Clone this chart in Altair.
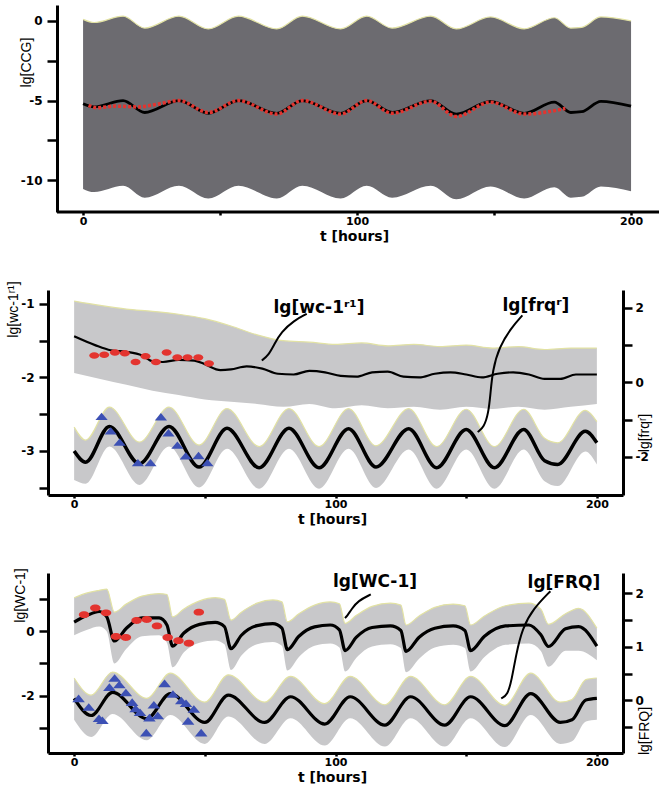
import altair as alt
import pandas as pd

RED = '#e3342f'
BLUE = '#3c50b4'
DARK = '#6c6b70'
LIGHT = '#c8c8ca'
EDGE = '#e2e2a4'

# ---------------- Panel 1 : lg[CCG] ----------------
ccg_t  = [0, 4, 14.6, 22.5, 35, 45.7, 56.7, 70.7, 80, 94, 103.5, 112.8, 126.9, 136.2, 148.7, 161, 172, 178, 182, 189, 200]
ccg_v  = [-5.2, -5.4, -5.0, -5.75, -5.0, -5.8, -5.0, -5.8, -5.0, -5.8, -5.0, -5.75, -5.0, -5.85, -5.05, -5.8, -5.1, -5.75, -5.7, -5.05, -5.35]
ccg_hi = [0.1, -0.1, 0.3, -0.45, 0.3, -0.5, 0.3, -0.5, 0.3, -0.5, 0.3, -0.45, 0.3, -0.5, 0.25, -0.5, 0.2, -0.45, -0.4, 0.25, 0.0]
ccg_lo = [-10.55, -10.75, -10.35, -11.1, -10.35, -11.15, -10.35, -11.15, -10.35, -11.15, -10.35, -11.1, -10.35, -11.2, -10.4, -11.15, -10.45, -11.1, -11.05, -10.4, -10.7]
ccg_red_t = [2, 5, 12, 20, 28, 35, 45.7, 56.7, 70.7, 80, 94, 103.5, 112.8, 126.9, 136.2, 148.7, 161, 176]
ccg_red_v = [-5.3, -5.45, -5.35, -5.4, -5.2, -5.0, -5.75, -5.0, -5.85, -5.0, -5.85, -5.0, -5.8, -5.05, -6.0, -5.1, -5.85, -5.5]
p1_frame = {'t': [-9.5], 't2': [210.2], 'v': [-12]}

# ---------------- Panel 2 : lg[wc-1 r1] / lg[frq r] ----------------
wc_t = [0, 8, 14, 20, 26, 30, 34, 40, 46, 50, 56, 60, 66, 72, 78, 84, 90, 96, 102, 108, 114, 120, 126, 132, 138, 144, 150, 156, 162, 168, 174, 180, 186, 192, 200]
wc_v = [-1.44, -1.56, -1.63, -1.65, -1.70, -1.78, -1.79, -1.76, -1.77, -1.82, -1.90, -1.89, -1.85, -1.88, -1.95, -1.96, -1.91, -1.93, -1.98, -1.99, -1.93, -1.92, -1.99, -2.0, -1.95, -1.93, -1.96, -2.0, -1.95, -1.93, -1.96, -2.02, -2.02, -1.96, -1.96]
wcb_t = [0, 10, 20, 30, 40, 50, 60, 70, 80, 90, 100, 110, 120, 130, 140, 150, 160, 170, 180, 190, 200]
wcb_hi = [-0.96, -1.02, -1.07, -1.1, -1.14, -1.2, -1.3, -1.42, -1.5, -1.52, -1.55, -1.53, -1.57, -1.55, -1.58, -1.56, -1.6, -1.58, -1.62, -1.6, -1.6]
wcb_lo = [-1.94, -2.02, -2.1, -2.18, -2.24, -2.3, -2.33, -2.36, -2.4, -2.36, -2.42, -2.38, -2.42, -2.4, -2.44, -2.4, -2.43, -2.4, -2.44, -2.4, -2.36]
red2_t = [7.7, 11.5, 15.6, 19.4, 23.5, 27.3, 31.3, 35.4, 39.5, 43.4, 47.5, 51.6]
red2_v = [-1.70, -1.69, -1.66, -1.67, -1.79, -1.71, -1.79, -1.66, -1.73, -1.73, -1.73, -1.81]
frq_t = [0, 4.4, 13.5, 25, 36.3, 47.8, 58.5, 70.8, 82.2, 93.7, 105, 115.5, 128, 138.7, 150, 160.8, 172, 180, 185, 195.6, 200]
frq_v = [-1.84, -2.14, -1.18, -2.18, -1.18, -2.27, -1.23, -2.29, -1.23, -2.29, -1.24, -2.27, -1.24, -2.29, -1.26, -2.29, -1.26, -2.1, -2.2, -1.31, -1.62]
frq_hi = [-1.2, -1.55, -0.66, -1.6, -0.66, -1.68, -0.7, -1.72, -0.7, -1.72, -0.7, -1.7, -0.7, -1.72, -0.72, -1.72, -0.72, -1.5, -1.62, -0.75, -1.05]
frq_lo = [-2.62, -2.72, -1.72, -2.75, -1.72, -2.82, -1.78, -2.85, -1.78, -2.85, -1.78, -2.83, -1.8, -2.85, -1.8, -2.85, -1.8, -2.65, -2.78, -1.85, -2.2]
tri2_t = [10.5, 14, 17.4, 24.4, 29.2, 33.2, 36.1, 39.5, 42.7, 47.6, 51]
tri2_v = [-0.91, -1.3, -1.6, -2.15, -2.15, -0.92, -1.35, -1.68, -1.97, -1.96, -2.15]
ptr2_id = [1, 1, 1, 1, 1, 1, 2, 2, 2, 2, 2, 2, 2, 2]
ptr2_t = [89.0, 84.1, 79.2, 76.7, 74.3, 71.8, 171.5, 167.4, 162.6, 160.1, 159.3, 158.5, 156.8, 154.4]
ptr2_v = [1.84, 1.66, 1.35, 1.04, 0.72, 0.59, 1.8, 1.48, 0.95, 0.32, -0.3, -0.83, -1.2, -1.33]
lab2_text = ['lg[wc-1ʳ¹]', 'lg[frqʳ]']
lab2_t = [93.7, 176.7]
lab2_v = [1.99, 2.04]

# ---------------- Panel 3 : lg[WC-1] / lg[FRQ] ----------------
WC_t = [0, 5, 9.6, 12.5, 15.4, 19.9, 26, 32.5, 35.5, 37.7, 42, 48, 54, 57.5, 60, 64, 70, 76, 79.5, 81.6, 86, 92, 98, 101.5, 103.7, 108, 114, 121, 125, 127, 132, 138, 145, 149.5, 151.7, 157, 165, 174, 178.5, 181.5, 188, 193, 200]
WC_v = [0.29, 0.5, 0.62, 0.45, -0.3, 0.09, 0.42, 0.42, 0.2, -0.46, -0.05, 0.22, 0.28, 0.15, -0.54, -0.12, 0.18, 0.24, 0.1, -0.57, -0.15, 0.14, 0.2, 0.05, -0.6, -0.18, 0.12, 0.17, 0.03, -0.62, -0.18, 0.1, 0.17, 0.03, -0.6, -0.15, 0.17, 0.2, -0.1, -0.47, 0.08, 0.15, -0.46]
WC_hi = [1.05, 1.2, 1.28, 1.32, 0.6, 0.85, 1.1, 1.18, 1.15, 0.45, 0.7, 0.95, 1.05, 1.0, 0.35, 0.6, 0.88, 0.98, 0.92, 0.3, 0.55, 0.82, 0.92, 0.86, 0.25, 0.5, 0.78, 0.88, 0.82, 0.2, 0.48, 0.75, 0.85, 0.8, 0.2, 0.48, 0.8, 0.88, 0.7, 0.22, 0.55, 0.72, 0.1]
WC_lo = [-0.12, 0.05, 0.15, 0.0, -1.0, -0.55, -0.15, -0.12, -0.35, -1.12, -0.65, -0.35, -0.28, -0.4, -1.2, -0.75, -0.4, -0.33, -0.45, -1.22, -0.8, -0.45, -0.38, -0.5, -1.25, -0.82, -0.47, -0.4, -0.52, -1.27, -0.85, -0.5, -0.42, -0.52, -1.25, -0.8, -0.42, -0.38, -0.6, -1.1, -0.6, -0.6, -0.9]
red3_t = [3.8, 8.1, 12.2, 16.0, 19.8, 23.9, 27.8, 31.7, 35.8, 39.9, 43.9, 47.7]
red3_v = [0.52, 0.73, 0.58, -0.16, -0.19, 0.34, 0.37, 0.17, -0.19, -0.29, -0.37, 0.6]
FRQ_t = [0, 6.5, 14.7, 27.8, 36.8, 50, 59, 72.9, 82.8, 95.9, 105.6, 118.9, 128.7, 141.8, 151.7, 164.8, 174.7, 186, 190.5, 195.8, 200]
FRQ_v = [0.04, -0.28, 0.15, -0.34, 0.13, -0.41, 0.1, -0.41, 0.07, -0.44, 0.07, -0.46, 0.07, -0.46, 0.07, -0.47, 0.13, -0.41, -0.36, 0.01, 0.04]
FRQ_hi = [0.42, 0.1, 0.53, 0.04, 0.51, -0.03, 0.48, -0.03, 0.45, -0.06, 0.45, -0.08, 0.45, -0.08, 0.45, -0.09, 0.51, -0.03, 0.02, 0.39, 0.42]
FRQ_lo = [-0.36, -0.68, -0.25, -0.74, -0.27, -0.81, -0.3, -0.81, -0.33, -0.84, -0.33, -0.86, -0.33, -0.86, -0.33, -0.87, -0.27, -0.81, -0.76, -0.39, -0.36]
tri3_t = [1.7, 5.6, 9.5, 10.8, 13.5, 15.5, 17.3, 19.8, 22.2, 23.5, 25.2, 27.6, 28.8, 30.5, 32, 34.6, 37.8, 41, 42.8, 43.6, 45.8, 48.6]
tri3_v = [0.04, -0.12, -0.33, -0.37, 0.25, 0.42, 0.3, 0.15, -0.03, -0.15, -0.22, -0.6, -0.32, -0.08, -0.28, 0.32, 0.12, 0.0, -0.05, -0.38, -0.16, -0.6]
ptr3_id = [1, 1, 1, 1, 1, 2, 2, 2, 2, 2, 2, 2]
ptr3_t = [113.5, 108.6, 106.2, 104.5, 103.6, 182.2, 175.6, 171.5, 169.1, 167.4, 165.8, 163.4]
ptr3_v = [1.98, 1.86, 1.71, 1.58, 1.54, 2.04, 1.71, 1.35, 0.86, 0.38, 0.1, 0.04]
lab3_text = ['lg[WC-1]', 'lg[FRQ]']
lab3_t = [115.1, 187.4]
lab3_v = [2.22, 2.2]

# right-axis titles
right_titles = ['lg[frqʳ]', 'lg[FRQ]']

# ---------------- helpers ----------------
ELLIPSE = "M -1 0 A 1 0.65 0 1 1 1 0 A 1 0.65 0 1 1 -1 0 Z"
TRI = "M -1 0.6 L 0 -0.6 L 1 0.6 Z"
XT = [0, 50, 100, 150, 200]
W2 = 575


def lab(cond):
    return cond + " ? replace(format(datum.value, 'd'), '\u2212', '-') : ''"


def x_axis(tx, ty, domain=True):
    return alt.Axis(values=XT, labelExpr=lab("datum.value % 100 === 0"), title='t [hours]',
                    titleX=tx, titleY=ty, titleAlign='center', titleBaseline='middle',
                    titleFont='DejaVu Sans', titleFontSize=14, titleFontWeight='bold',
                    tickSize=3, labelPadding=0, labelFlush=False, labelOverlap=False, domain=domain)


def y_axis(values, cond, title, tx, ty, orient='left', offset=0, tick=9, pad=5):
    kw = dict(orient=orient, values=values, labelExpr=lab(cond), title=title,
              tickSize=tick, labelPadding=pad, labelFlush=False, labelOverlap=False)
    if title:
        kw.update(titleX=tx, titleY=ty, titleAlign='center', titleBaseline='middle',
                  titleFont='Liberation Sans', titleFontSize=14, titleFontWeight='normal',
                  titleAngle=270)
    if offset:
        kw['offset'] = offset
    return alt.Axis(**kw)


def X(dom, axis):
    return alt.X('t:Q', scale=alt.Scale(domain=dom, nice=False, zero=False), axis=axis)


def Y(field, dom, axis):
    return alt.Y(field + ':Q', scale=alt.Scale(domain=dom, nice=False, zero=False), axis=axis)


def band(df, x, ydom, yax, color):
    area = alt.Chart(df).mark_area(color=color, interpolate='monotone', opacity=1).encode(
        x=x, y=Y('hi', ydom, yax), y2='lo:Q')
    edge = alt.Chart(df).mark_line(color=EDGE, strokeWidth=1.2, interpolate='monotone').encode(
        x=x, y=Y('hi', ydom, yax))
    return [area, edge]


def line(df, x, ydom, yax, width, color='black', dash=None):
    kw = dict(color=color, strokeWidth=width, interpolate='monotone')
    if dash:
        kw['strokeDash'] = dash
    return alt.Chart(df).mark_line(**kw).encode(x=x, y=Y('v', ydom, yax))


def points(df, x, ydom, yax, shape, size, color):
    return alt.Chart(df).mark_point(shape=shape, size=size, filled=True, color=color,
                                    opacity=1, strokeWidth=0).encode(x=x, y=Y('v', ydom, yax))


def pointers(df, x, ydom, yax):
    return alt.Chart(df).mark_line(color='black', strokeWidth=2, interpolate='basis').encode(
        x=x, y=Y('v', ydom, yax), detail='id:N', order='o:Q')


def labels(df, x, ydom, yax):
    return alt.Chart(df).mark_text(font='DejaVu Sans', fontWeight='bold', fontSize=17,
                                   color='black', align='center', baseline='middle').encode(
        x=x, y=Y('v', ydom, yax), text='label:N')


def right_title(text, ypix):
    return alt.Chart(pd.DataFrame({'label': [text]})).mark_text(
        font='Liberation Sans', fontSize=14, color='black', angle=270,
        align='center', baseline='middle').encode(
        x=alt.value(W2 + 22), y=alt.value(ypix), text='label:N')


# ---------------- panel 1 ----------------
d1 = pd.DataFrame({'t': ccg_t, 'v': ccg_v, 'hi': ccg_hi, 'lo': ccg_lo})
d1r = pd.DataFrame({'t': ccg_red_t, 'v': ccg_red_v})
d1f = pd.DataFrame(p1_frame)
X1 = X([-12.8, 210.2], x_axis(306, 24, domain=False))
Y1dom = [-12, 1]
Y1ax = y_axis([0, -2.5, -5, -7.5, -10], "datum.value % 5 === 0", 'lg[CCG]', -31, 57, offset=-9, tick=10)
frame1 = alt.Chart(d1f).mark_rule(color='black', strokeWidth=3).encode(
    x=X1, x2='t2:Q', y=Y('v', Y1dom, Y1ax))
p1 = alt.layer(*band(d1, X1, Y1dom, Y1ax, DARK),
               line(d1, X1, Y1dom, Y1ax, 2.8),
               line(d1r, X1, Y1dom, Y1ax, 3.5, RED, [3, 2]),
               frame1).properties(width=611, height=207)

# ---------------- panel 2 ----------------
X2 = X([-10, 210], x_axis(284, 24))
L2dom = [-3.6, -0.81]
L2ax = y_axis([-1, -1.5, -2, -2.5, -3, -3.5], "datum.value % 1 === 0", 'lg[wc-1ʳ¹]', -35, 19)
R2dom = [-3.02, 2.48]
R2ax = y_axis([2, 1, 0, -1, -2], "datum.value % 2 === 0", '', 0, 0, orient='right', pad=3)
d2b = pd.DataFrame({'t': wcb_t, 'hi': wcb_hi, 'lo': wcb_lo})
d2w = pd.DataFrame({'t': wc_t, 'v': wc_v})
d2r = pd.DataFrame({'t': red2_t, 'v': red2_v})
d2f = pd.DataFrame({'t': frq_t, 'v': frq_v, 'hi': frq_hi, 'lo': frq_lo})
d2tri = pd.DataFrame({'t': tri2_t, 'v': tri2_v})
d2p = pd.DataFrame({'id': ptr2_id, 't': ptr2_t, 'v': ptr2_v, 'o': list(range(len(ptr2_t)))})
d2l = pd.DataFrame({'label': lab2_text, 't': lab2_t, 'v': lab2_v})
left2 = alt.layer(*band(d2b, X2, L2dom, L2ax, LIGHT),
                  line(d2w, X2, L2dom, L2ax, 2.2),
                  points(d2r, X2, L2dom, L2ax, ELLIPSE, 100, RED))
right2 = alt.layer(*band(d2f, X2, R2dom, R2ax, LIGHT),
                   line(d2f, X2, R2dom, R2ax, 3.5),
                   points(d2tri, X2, R2dom, R2ax, TRI, 150, BLUE),
                   pointers(d2p, X2, R2dom, R2ax),
                   labels(d2l, X2, R2dom, R2ax),
                   right_title(right_titles[0], 143))
p2 = alt.layer(left2, right2).resolve_scale(y='independent').properties(width=W2, height=205)

# ---------------- panel 3 ----------------
X3 = X([-10, 210], x_axis(284, 24))
L3dom = [-3.79, 1.82]
L3ax = y_axis([1, 0, -1, -2, -3], "datum.value % 2 === 0", 'lg[WC-1]', -28, 22)
R3dom = [-0.98, 2.38]
R3ax = y_axis([2, 1.5, 1, 0.5, 0, -0.5, -1], "datum.value % 1 === 0", '', 0, 0, orient='right', pad=3)
d3w = pd.DataFrame({'t': WC_t, 'v': WC_v, 'hi': WC_hi, 'lo': WC_lo})
d3r = pd.DataFrame({'t': red3_t, 'v': red3_v})
d3f = pd.DataFrame({'t': FRQ_t, 'v': FRQ_v, 'hi': FRQ_hi, 'lo': FRQ_lo})
d3tri = pd.DataFrame({'t': tri3_t, 'v': tri3_v})
d3p = pd.DataFrame({'id': ptr3_id, 't': ptr3_t, 'v': ptr3_v, 'o': list(range(len(ptr3_t)))})
d3l = pd.DataFrame({'label': lab3_text, 't': lab3_t, 'v': lab3_v})
left3 = alt.layer(*band(d3w, X3, L3dom, L3ax, LIGHT),
                  line(d3w, X3, L3dom, L3ax, 3.2),
                  points(d3r, X3, L3dom, L3ax, ELLIPSE, 110, RED))
right3 = alt.layer(*band(d3f, X3, R3dom, R3ax, LIGHT),
                   line(d3f, X3, R3dom, R3ax, 3.2),
                   points(d3tri, X3, R3dom, R3ax, TRI, 160, BLUE),
                   pointers(d3p, X3, R3dom, R3ax),
                   labels(d3l, X3, R3dom, R3ax),
                   right_title(right_titles[1], 158))
p3 = alt.layer(left3, right3).resolve_scale(y='independent').properties(width=W2, height=180)

chart = alt.vconcat(p1, p2, p3, spacing=78, bounds='flush').properties(
    padding={'left': 5, 'top': 5, 'right': 0, 'bottom': 0}
).configure_view(stroke=None).configure_axis(
    domainColor='black', domainWidth=3, tickColor='black', tickWidth=2.5,
    labelFont='DejaVu Sans', labelFontSize=11, labelFontWeight='bold', labelColor='black',
    titleColor='black', grid=False
).configure_axisY(labelFontSize=12)

chart.save("out.html", embed_options={"renderer": "svg", "actions": False})
